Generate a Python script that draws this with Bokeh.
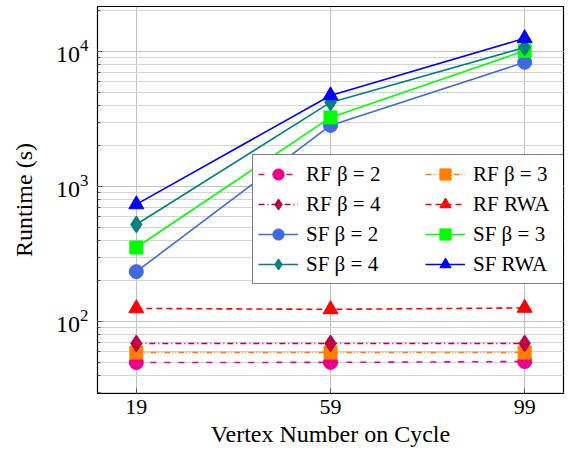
from bokeh.plotting import figure
from bokeh.models import Legend, LegendItem, FixedTicker
from bokeh.embed import file_html
from bokeh.resources import INLINE

x_vals = [19, 59, 99]
x_ticks = [19, 59, 99]

rf_b2 = [49.7, 49.8, 50.5]
rf_b3 = [58.9, 58.9, 58.9]
rf_b4 = [68.8, 68.8, 68.8]
rf_rwa = [125, 123, 126]
sf_b2 = [234, 2830, 8300]
sf_b3 = [353, 3245, 10100]
sf_b4 = [523, 4190, 10700]
sf_rwa = [736, 4720, 12500]

labels = ["RF β = 2", "RF β = 3", "RF β = 4", "RF RWA",
          "SF β = 2", "SF β = 3", "SF β = 4", "SF RWA"]

FONT = "Liberation Serif"

p = figure(width=573, height=455, y_axis_type="log", x_range=(11, 107), y_range=(29.3, 21500),
           output_backend="svg", toolbar_location=None,
           min_border_left=97, min_border_right=10, min_border_top=6, min_border_bottom=62)
p.outline_line_color = "black"
p.outline_line_width = 1.2

p.xaxis.ticker = FixedTicker(ticks=x_ticks)
p.xaxis.axis_label = "Vertex Number on Cycle"
p.yaxis.axis_label = "Runtime (s)"
for ax in (p.xaxis[0], p.yaxis[0]):
    ax.axis_label_text_font = FONT
    ax.axis_label_text_font_style = "normal"
    ax.axis_label_text_font_size = "24px"
    ax.axis_label_text_color = "black"
    ax.major_label_text_font = FONT
    ax.major_label_text_color = "black"
    ax.major_tick_in = 5
    ax.major_tick_out = 0
    ax.minor_tick_in = 3
    ax.minor_tick_out = 0
    ax.axis_line_color = "black"
    ax.major_tick_line_color = "#555555"
    ax.minor_tick_line_color = "#555555"
p.xaxis.major_label_text_font_size = "22px"
p.yaxis.major_label_text_font_size = "24px"
p.xaxis.major_label_standoff = 6
p.yaxis.major_label_standoff = 9
p.xaxis.axis_label_standoff = 4
p.yaxis.axis_label_standoff = 16

p.xgrid.grid_line_color = "#c0c0c0"
p.ygrid.grid_line_color = "#c0c0c0"
p.ygrid.minor_grid_line_color = "#d4d4d4"

series = [
    (rf_b2, "#EC008C", "6 8", "circle", 14),
    (rf_b3, "#FF8000", "6 2 1 2 1 2", "square", 13),
    (rf_b4, "#C00040", "6 3 1 3", "diamond", 17),
    (rf_rwa, "#FF0000", "6 4", "triangle", 15),
    (sf_b2, "#4169E1", "solid", "circle", 14),
    (sf_b3, "#00FF00", "solid", "square", 13),
    (sf_b4, "#008080", "solid", "diamond", 17),
    (sf_rwa, "#0000FF", "solid", "triangle", 15),
]

items = []
for (ys, col, dash, mk, sz), lab in zip(series, labels):
    l = p.line(x_vals, ys, line_color=col, line_width=1.6, line_dash=dash)
    m = p.scatter(x_vals, ys, marker=mk, size=sz, fill_color=col, line_color=col)
    items.append(LegendItem(label=lab, renderers=[l, m]))

# column-major ordering so rows read: RF2 RF3 / RF4 RFRWA / SF2 SF3 / SF4 SFRWA
order = [0, 2, 4, 6, 1, 3, 5, 7]
legend = Legend(items=[items[i] for i in order], location=(155, 109), ncols=2,
                label_text_font=FONT, label_text_font_size="21px", label_text_color="black",
                glyph_width=40, glyph_height=28, label_standoff=8, label_width=117,
                spacing=2, padding=5, margin=0, border_line_color="black", border_line_width=1.2,
                background_fill_alpha=1.0, label_height=28)
p.add_layout(legend, "center")

open("out.html", "w").write(file_html(p, INLINE))
